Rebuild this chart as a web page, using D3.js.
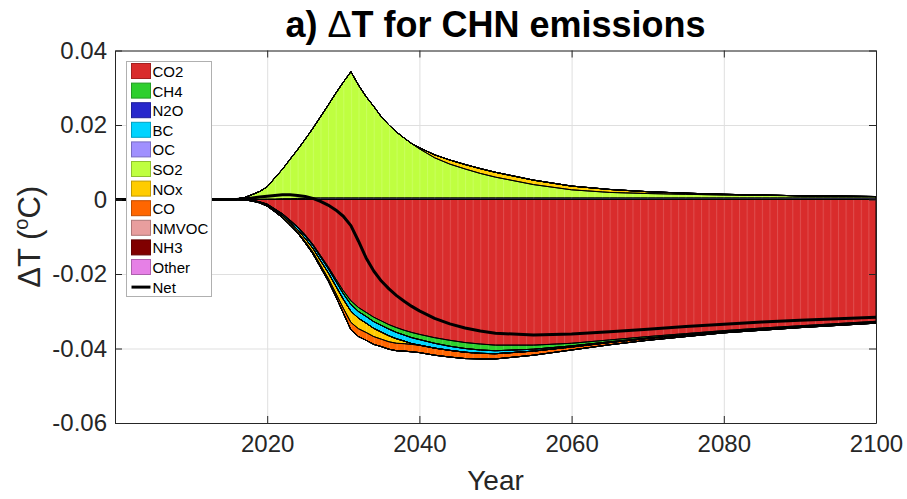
<!DOCTYPE html>
<html>
<head>
<meta charset="utf-8">
<script src="https://cdn.jsdelivr.net/npm/d3@7"></script>
<style>
body { margin: 0; background: #fff; }
text { font-family: "Liberation Sans", Helvetica, Arial, sans-serif; }
</style>
</head>
<body>
<div id="chart"></div>
<script>
// years (annual around the peak, sparser later)
var years = [2000, 2015, 2016, 2017, 2018, 2019, 2020, 2021, 2022, 2023, 2024, 2025, 2026, 2027, 2028, 2029, 2030,
  2031, 2032, 2033, 2034, 2035, 2036, 2037, 2038, 2039, 2040, 2042, 2044, 2046, 2048, 2050,
  2055, 2060, 2065, 2070, 2075, 2080, 2085, 2090, 2095, 2100]

var CO2 = [0, 0, 0, -0.0001, -0.0002, -0.0006, -0.0012, -0.0025, -0.0038, -0.0055, -0.0073, -0.0095, -0.0120, -0.0150, -0.0180, -0.0213, -0.0245,
  -0.0272, -0.0290, -0.0303, -0.0316, -0.0326, -0.0336, -0.0344, -0.0351, -0.0357, -0.0362, -0.0371, -0.0378, -0.0384, -0.0388, -0.0391,
  -0.0391, -0.0386, -0.0377, -0.0368, -0.0360, -0.0352, -0.0345, -0.0339, -0.0333, -0.0327]
var CH4 = [0, 0, 0, 0, 0, -0.00005, -0.0001, -0.0001, -0.0001, -0.0002, -0.0002, -0.0003, -0.0003, -0.0004, -0.0005, -0.0006, -0.0008,
  -0.0010, -0.0011, -0.0011, -0.0012, -0.0012, -0.0012, -0.0013, -0.0013, -0.0014, -0.0014, -0.0015, -0.0016, -0.0016, -0.0016, -0.0015,
  -0.0011, -0.0007, -0.0005, -0.0004, -0.0003, -0.0002, -0.0002, -0.0002, -0.0002, -0.0002]
var N2O = [0, 0, 0, 0, 0, 0, 0, 0, 0, 0, 0, 0, 0, 0, 0, 0, 0,
  0, 0, 0, 0, 0, 0, 0, 0, 0, 0, 0, 0, 0, 0, 0,
  0, 0, 0, 0, 0, 0, 0, 0, 0, 0]
var BC = [0, 0, 0, 0, -0.0001, -0.0001, -0.0002, -0.0003, -0.0004, -0.0005, -0.0006, -0.0007, -0.0008, -0.0010, -0.0011, -0.0013, -0.0015,
  -0.0018, -0.0018, -0.0018, -0.0018, -0.0018, -0.0018, -0.0017, -0.0016, -0.0016, -0.0015, -0.0013, -0.0011, -0.0010, -0.0009, -0.0008,
  -0.0005, -0.0003, -0.0002, -0.0001, -0.0001, -0.0001, -0.0001, -0.0001, -0.0001, -0.0001]
var OC = [0, 0, 0, 0, 0, 0.00005, 0.0001, 0.0001, 0.0002, 0.0002, 0.0003, 0.0003, 0.0004, 0.0004, 0.0004, 0.0004, 0.0004,
  0.0004, 0.0004, 0.0004, 0.0004, 0.0004, 0.0004, 0.0004, 0.0004, 0.0004, 0.0004, 0.0004, 0.0004, 0.0004, 0.0004, 0.0004,
  0.0004, 0.0004, 0.0004, 0.0004, 0.0004, 0.0004, 0.0004, 0.0004, 0.0004, 0.0004]
var SO2 = [0, 0, 0.0002, 0.0005, 0.0013, 0.0021, 0.0033, 0.0057, 0.0079, 0.0106, 0.0131, 0.0159, 0.0187, 0.0218, 0.0249, 0.0281, 0.0311,
  0.0339, 0.0303, 0.0272, 0.0246, 0.0218, 0.0196, 0.0177, 0.0161, 0.0146, 0.0132, 0.0108, 0.0091, 0.0078, 0.0066, 0.0056,
  0.0036, 0.0022, 0.0015, 0.0012, 0.0010, 0.0008, 0.0007, 0.0006, 0.0005, 0.0004]
var NOx = [0, 0, 0, 0, -0.0001, -0.0001, -0.0002, -0.0003, -0.0004, -0.0005, -0.0006, -0.0008, -0.0010, -0.0012, -0.0015, -0.0019, -0.0024,
  -0.0030, -0.0028, -0.0025, -0.0022, -0.0019, -0.0016, -0.0012, -0.0007, -0.0002, 0.0003, 0.0008, 0.0011, 0.0012, 0.0013, 0.0013,
  0.0012, 0.0010, 0.0008, 0.0005, 0.0003, 0.0002, 0.0001, 0, 0, 0]
var CO = [0, 0, 0, 0, 0, -0.00005, -0.0001, -0.0001, -0.0002, -0.0002, -0.0003, -0.0004, -0.0005, -0.0006, -0.0007, -0.0009, -0.0013,
  -0.0020, -0.0021, -0.0021, -0.0021, -0.0020, -0.0020, -0.0020, -0.0020, -0.0020, -0.0020, -0.0019, -0.0018, -0.0017, -0.0015, -0.0014,
  -0.0011, -0.0008, -0.0006, -0.0005, -0.0004, -0.0003, -0.0003, -0.0002, -0.0002, -0.0002]
var NMVOC = N2O.slice()
var NH3 = N2O.slice()
var Other = N2O.slice()

var Net = [0, 0, 0, 0.0002, 0.0004, 0.0007, 0.0009, 0.0011, 0.0013, 0.0013, 0.0011, 0.0008, 0.0003, -0.0005, -0.0015, -0.0028, -0.0045,
  -0.0070, -0.0112, -0.0157, -0.0192, -0.0219, -0.0240, -0.0258, -0.0273, -0.0287, -0.0299, -0.0319, -0.0334, -0.0345, -0.0353, -0.0359,
  -0.0364, -0.0361, -0.0355, -0.0348, -0.0341, -0.0335, -0.0329, -0.0324, -0.0320, -0.0316]

var names = ["CO2", "CH4", "N2O", "BC", "OC", "SO2", "NOx", "CO", "NMVOC", "NH3", "Other"]
var series = [CO2, CH4, N2O, BC, OC, SO2, NOx, CO, NMVOC, NH3, Other]
var colors = ["#d92c2c", "#2ecf2e", "#2828cc", "#00d4ff", "#a090ff", "#bfff40", "#ffcc00", "#ff6600", "#e89e9e", "#800000", "#e680e6"]

var xTicks = [2020, 2040, 2060, 2080, 2100]
var yTicks = [-0.06, -0.04, -0.02, 0, 0.02, 0.04]
var yTickLabels = ["-0.06", "-0.04", "-0.02", "0", "0.02", "0.04"]

var width = 907,
    height = 499,
    pLeft = 115,
    pRight = 876,
    pTop = 50.5,
    pBottom = 423,
    ink = "#262626"

var svg = d3.select("#chart").append("svg")
  .attr("width", width)
  .attr("height", height)

var x = d3.scaleLinear().domain([2000, 2100]).range([pLeft, pRight])
var y = d3.scaleLinear().domain([-0.06, 0.04]).range([pBottom, pTop])

// faint vertical seams like the original patch rendering
var yr = x(2001) - x(2000)
var pat = svg.append("defs").append("pattern")
  .attr("id", "seams")
  .attr("patternUnits", "userSpaceOnUse")
  .attr("x", pLeft).attr("y", 0)
  .attr("width", yr).attr("height", 40)
pat.append("rect").attr("x", 0).attr("y", 0).attr("width", 1).attr("height", 40)
  .attr("fill", "#fff").attr("fill-opacity", 0.16)

// rows for the stack, positive and negative parts stacked apart
var rows = years.map(function(yy, i) {
  var r = {year: yy}
  names.forEach(function(n, k) { r[n] = series[k][i] })
  return r
})

var posStack = d3.stack().keys(names).value(function(d, k) { return Math.max(0, d[k]) })(rows)
var negStack = d3.stack().keys(names).value(function(d, k) { return Math.min(0, d[k]) })(rows)

// grid
svg.append("g")
  .attr("transform", "translate(0," + pBottom + ")")
  .call(d3.axisBottom(x).tickValues(xTicks).tickSize(-(pBottom - pTop)).tickFormat(""))
  .call(function(g) { g.select(".domain").remove() })
  .selectAll("line").attr("stroke", "#dfdfdf")
svg.append("g")
  .attr("transform", "translate(" + pLeft + ",0)")
  .call(d3.axisLeft(y).tickValues(yTicks).tickSize(-(pRight - pLeft)).tickFormat(""))
  .call(function(g) { g.select(".domain").remove() })
  .selectAll("line").attr("stroke", "#dfdfdf")

var area = d3.area()
  .x(function(d) { return x(d.data.year) })
  .y0(function(d) { return y(d[0]) })
  .y1(function(d) { return y(d[1]) })

function drawStack(st, cls) {
  svg.selectAll("." + cls).data(st)
    .enter().append("path")
    .attr("class", cls)
    .attr("d", area)
    .attr("fill", function(d) { return colors[d.index] })
  svg.selectAll("." + cls + "s").data(st)
    .enter().append("path")
    .attr("class", cls + "s")
    .attr("d", area)
    .attr("fill", "url(#seams)")
    .attr("stroke", "#000")
    .attr("stroke-width", 1)
    .attr("stroke-linejoin", "round")
}
drawStack(negStack, "neg")
drawStack(posStack, "pos")

// net line
svg.append("path")
  .datum(years)
  .attr("d", d3.line().x(function(d) { return x(d) }).y(function(d, i) { return y(Net[i]) }))
  .attr("fill", "none")
  .attr("stroke", "#000")
  .attr("stroke-width", 3)
  .attr("stroke-linejoin", "round")

// axes, ticks inward on all four sides
function styleAxis(g) {
  g.select(".domain").attr("stroke", ink)
  g.selectAll(".tick line").attr("stroke", ink)
  g.selectAll("text").attr("fill", ink).style("font-size", "24px")
}
svg.append("g")
  .attr("transform", "translate(0," + pBottom + ")")
  .call(d3.axisBottom(x).tickValues(xTicks).tickSize(-7).tickSizeOuter(0).tickPadding(12).tickFormat(d3.format("d")))
  .call(styleAxis)
svg.append("g")
  .attr("transform", "translate(0," + pTop + ")")
  .call(d3.axisTop(x).tickValues(xTicks).tickSize(-7).tickSizeOuter(0).tickFormat(""))
  .call(styleAxis)
svg.append("g")
  .attr("transform", "translate(" + pLeft + ",0)")
  .call(d3.axisLeft(y).tickValues(yTicks).tickSize(-7).tickSizeOuter(0).tickPadding(8)
    .tickFormat(function(d, i) { return yTickLabels[i] }))
  .call(styleAxis)
svg.append("g")
  .attr("transform", "translate(" + pRight + ",0)")
  .call(d3.axisRight(y).tickValues(yTicks).tickSize(-7).tickSizeOuter(0).tickFormat(""))
  .call(styleAxis)

// title and labels
var title = svg.append("text")
  .attr("x", (pLeft + pRight) / 2)
  .attr("y", 37)
  .attr("text-anchor", "middle")
  .style("font-size", "36px")
  .style("font-weight", "bold")
  .attr("fill", "#000")
title.append("tspan").text("a) ")
title.append("tspan").style("font-weight", "normal").text("\u0394")
title.append("tspan").text("T for CHN emissions")

svg.append("text")
  .attr("x", (pLeft + pRight) / 2)
  .attr("y", 490)
  .attr("text-anchor", "middle")
  .style("font-size", "28px")
  .attr("fill", ink)
  .text("Year")

var ylab = svg.append("text")
  .attr("transform", "translate(40," + ((pTop + pBottom) / 2) + ") rotate(-90)")
  .attr("text-anchor", "middle")
  .style("font-size", "31px")
  .attr("fill", ink)
ylab.append("tspan").text("\u0394T (")
ylab.append("tspan").attr("dy", -12).style("font-size", "20px").text("o")
ylab.append("tspan").attr("dy", 12).text("C)")

// legend
var lx = 126.5, ly = 61.5, lw = 85, lh = 235, step = 19.6
var legend = svg.append("g")
legend.append("rect")
  .attr("x", lx).attr("y", ly).attr("width", lw).attr("height", lh)
  .attr("fill", "#fff").attr("stroke", "#b0b0b0").attr("stroke-width", 1)

legend.selectAll(".sw").data(names)
  .enter().append("rect")
  .attr("class", "sw")
  .attr("x", lx + 5)
  .attr("y", function(d, i) { return ly + 2 + step * i })
  .attr("width", 19)
  .attr("height", 15)
  .attr("fill", function(d, i) { return colors[i] })
  .attr("stroke", function(d, i) { return d3.color(colors[i]).darker(0.8) })
  .attr("stroke-width", 1)

legend.append("line")
  .attr("x1", lx + 5).attr("x2", lx + 24)
  .attr("y1", ly + 10 + step * 11).attr("y2", ly + 10 + step * 11)
  .attr("stroke", "#000").attr("stroke-width", 3)

legend.selectAll(".lt").data(names.concat(["Net"]))
  .enter().append("text")
  .attr("class", "lt")
  .attr("x", lx + 26)
  .attr("y", function(d, i) { return ly + 15.5 + step * i })
  .style("font-size", "15px")
  .attr("fill", "#000")
  .text(function(d) { return d })
</script>
</body>
</html>
